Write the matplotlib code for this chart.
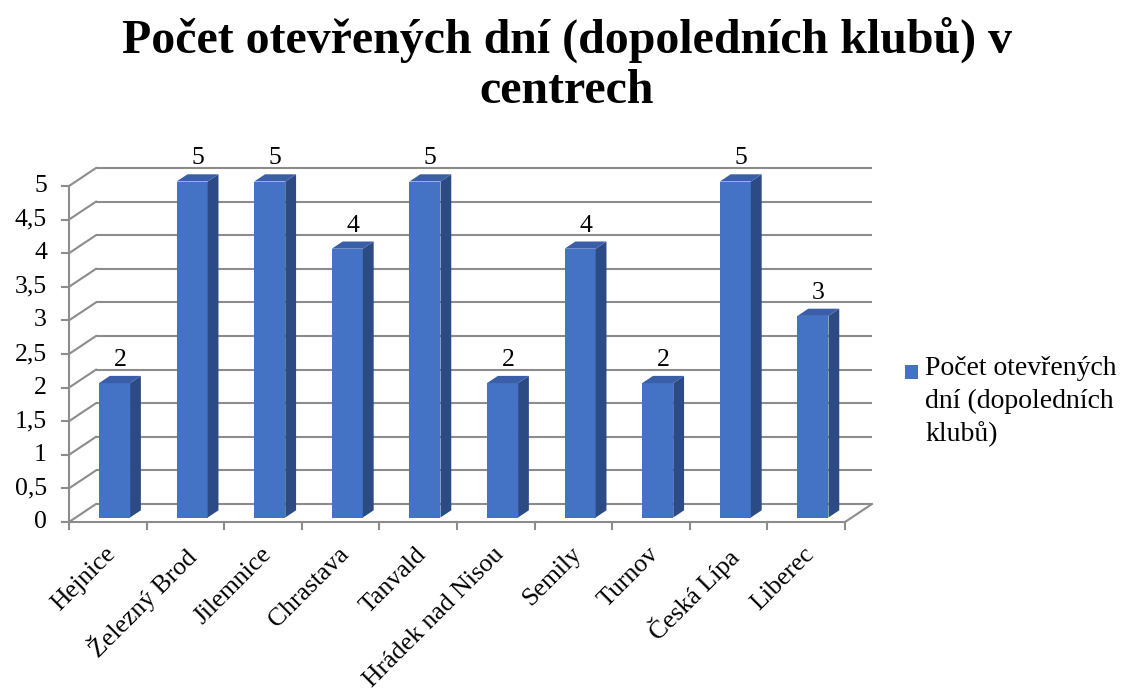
import matplotlib
matplotlib.use("Agg")
import matplotlib.pyplot as plt
from matplotlib.patches import Polygon, Rectangle

# ---- data ----
categories = ["Hejnice", "Železný Brod", "Jilemnice", "Chrastava", "Tanvald",
              "Hrádek nad Nisou", "Semily", "Turnov", "Česká Lípa", "Liberec"]
values = [2, 5, 5, 4, 5, 2, 4, 2, 5, 3]
series_name = "Počet otevřených dní (dopoledních klubů)"
title = "Počet otevřených dní (dopoledních klubů) v\ncentrech"
yticks = [0, 0.5, 1, 1.5, 2, 2.5, 3, 3.5, 4, 4.5, 5]
ytick_labels = ["0", "0,5", "1", "1,5", "2", "2,5", "3", "3,5", "4", "4,5", "5"]

plt.rcParams['font.family'] = ['Liberation Serif', 'DejaVu Serif']

W, H = 1122, 700
fig = plt.figure(figsize=(W / 100, H / 100), dpi=100)
# front plane of the plot area in pixels
x0, x1, yb, yt = 69, 845, 522, 186
ax = fig.add_axes([x0 / W, (H - yb) / H, (x1 - x0) / W, (yb - yt) / H])
n = len(categories)
ymax = 5
ax.set_xlim(0, n)
ax.set_ylim(0, ymax)
ax.axis("off")

# depth offset (data units) for the back plane
px_x = (x1 - x0) / n
px_y = (yb - yt) / ymax
DX = 27 / px_x
DY = 18 / px_y

grid_c = "#8c8c8c"
lw = 1.5
fs = 18.5

# back wall gridlines and left wall diagonals
for v in yticks:
    ax.plot([DX, n + DX], [v + DY, v + DY], color=grid_c, lw=lw, clip_on=False,
            solid_capstyle="butt", zorder=1)
    ax.plot([0, DX], [v, v + DY], color=grid_c, lw=lw, clip_on=False, zorder=1)
    # y tick
    ax.plot([-7 / px_x, 0], [v, v], color=grid_c, lw=lw, clip_on=False, zorder=1)
# vertical y axis line
ax.plot([0, 0], [0, ymax], color=grid_c, lw=lw, clip_on=False, zorder=1)
# floor front edge and right diagonal
ax.plot([0, n], [0, 0], color=grid_c, lw=lw, clip_on=False, zorder=1)
ax.plot([n, n + DX], [0, DY], color=grid_c, lw=lw, clip_on=False, zorder=1)
# category tick marks
for i in range(n + 1):
    ax.plot([i, i], [0, -7 / px_y], color=grid_c, lw=lw, clip_on=False, zorder=1)

# y tick labels
for v, lab in zip(yticks, ytick_labels):
    ax.text(-22 / px_x, v, lab, ha="right", va="center", fontsize=fs,
            clip_on=False)

# 3D bars
front_c = "#4472c4"
side_c = "#2c4a84"
top_c = "#3a5ea8"
d0, d1 = 0.25, 0.65
bw = 0.4
for i, v in enumerate(values):
    cx = i + 0.5 + d0 * DX
    xl, xr = cx - bw / 2, cx + bw / 2
    yb0 = d0 * DY
    ddx = (d1 - d0) * DX
    ddy = (d1 - d0) * DY
    front = Polygon([(xl, yb0), (xr, yb0), (xr, yb0 + v), (xl, yb0 + v)],
                    closed=True, fc=front_c, ec="none", zorder=3)
    side = Polygon([(xr, yb0), (xr + ddx, yb0 + ddy), (xr + ddx, yb0 + ddy + v),
                    (xr, yb0 + v)], closed=True, fc=side_c, ec="none", zorder=3)
    top = Polygon([(xl, yb0 + v), (xr, yb0 + v), (xr + ddx, yb0 + v + ddy),
                   (xl + ddx, yb0 + v + ddy)], closed=True, fc=top_c, ec="none", zorder=3)
    for p in (front, side, top):
        p.set_clip_on(False)
        ax.add_patch(p)
    ax.text(cx + ddx / 2, yb0 + v + ddy + 10 / px_y, str(v), ha="center",
            va="baseline", fontsize=fs, clip_on=False, zorder=4)

# category labels
for i, c in enumerate(categories):
    ax.text(i + 0.5 - 3 / px_x, -21 / px_y, c, rotation=45, ha="right", va="top",
            rotation_mode="anchor", fontsize=fs, clip_on=False)

# title
fig.text(567 / W, 1 - 65 / H, title, ha="center", va="center", fontsize=34.5,
         fontweight="bold", linespacing=1.18)

# legend
fig.patches.append(Rectangle((905 / W, 1 - 379 / H), 13 / W, 14 / H,
                             transform=fig.transFigure, fc=front_c, ec="none"))
fig.text(925 / W, 1 - 356 / H, "Počet otevřených\ndní (dopoledních\nklubů)",
         ha="left", va="top", fontsize=20, linespacing=1.4)

fig.savefig("out.png", dpi=100)
